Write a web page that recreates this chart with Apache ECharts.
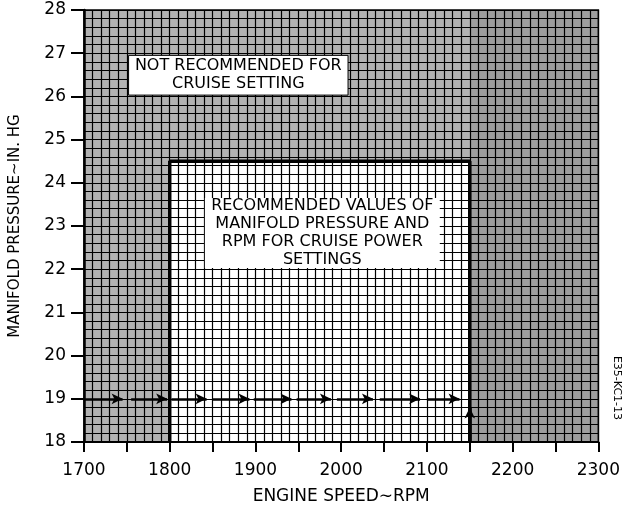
<!DOCTYPE html>
<html>
<head>
<meta charset="utf-8">
<script src="https://cdn.jsdelivr.net/npm/echarts@6/dist/echarts.min.js"></script>
<style>html,body{margin:0;padding:0;background:#fff}#c{width:623px;height:512px}</style>
</head>
<body>
<div id="c"></div>
<script>
// ---- data ----
const xRange = [1700, 2300];
const yRange = [18, 28];
const xTickLabels = ['1700', '1800', '1900', '2000', '2100', '2200', '2300'];
const yTickLabels = ['18', '19', '20', '21', '22', '23', '24', '25', '26', '27', '28'];
// recommended-region outline
const boxX = [1800, 1800, 2150, 2150];
const boxY = [18, 24.5, 24.5, 18];
// not-recommended shaded regions [x1, y1, x2, y2]
const shadeLeft = [1700, 18, 1800, 28];
const shadeTop = [1800, 24.5, 2150, 28];
const shadeRight = [2150, 18, 2300, 28];
// arrows along 19 in.Hg
const arrowLevel = 19;
const arrowStarts = [1700, 1755, 1802, 1850, 1898, 1948, 1995, 2045, 2100];
const arrowEnds = [1745, 1797, 1843, 1893, 1942, 1988, 2037, 2092, 2138];
const upArrowX = 2150;
const upArrowY = [18, 18.8];
// text boxes [x1, y1, x2, y2]
const noteNotRec = [1752, 26.95, 2008, 26.03];
const noteNotRecText = 'NOT RECOMMENDED FOR\nCRUISE SETTING';
const noteRec = [1841, 23.65, 2115, 22.03];
const noteRecText = 'RECOMMENDED VALUES OF\nMANIFOLD PRESSURE AND\nRPM FOR CRUISE POWER\nSETTINGS';

const FONT = 'DejaVu Sans';
const chart = echarts.init(document.getElementById('c'), null, {renderer: 'canvas'});

function area(r, style, label) {
  const a = {coord: [r[0], r[1]], itemStyle: style};
  if (label) a.label = label;
  return [a, {coord: [r[2], r[3]]}];
}

const arrowData = arrowStarts.map((s, i) => [
  {coord: [s, arrowLevel]}, {coord: [arrowEnds[i], arrowLevel]}
]);
arrowData.push([{coord: [upArrowX, upArrowY[0]]}, {coord: [upArrowX, upArrowY[1]]}]);

const option = {
  animation: false,
  backgroundColor: '#fff',
  grid: {left: 83, right: 20, top: 10, bottom: 70, show: true, borderColor: '#000', borderWidth: 1.5},
  xAxis: {
    type: 'value', min: xRange[0], max: xRange[1], interval: 50,
    name: 'ENGINE SPEED\u223CRPM', nameLocation: 'middle', nameGap: 46,
    nameTextStyle: {fontFamily: FONT, fontSize: 17, color: '#000'},
    axisLine: {show: true, lineStyle: {color: '#000', width: 2}},
    axisTick: {show: true, length: 10, lineStyle: {color: '#000', width: 2}},
    axisLabel: {
      margin: 20, fontFamily: FONT, fontSize: 17, color: '#000',
      formatter: v => { const s = String(v); return xTickLabels.indexOf(s) >= 0 ? s : ''; }
    },
    splitLine: {show: true, lineStyle: {color: '#000', width: 1.2}},
    minorTick: {show: false, splitNumber: 5},
    minorSplitLine: {show: true, lineStyle: {color: '#000', width: 1.2}}
  },
  yAxis: {
    type: 'value', min: yRange[0], max: yRange[1], interval: 1,
    name: 'MANIFOLD PRESSURE\u223CIN. HG', nameLocation: 'middle', nameGap: 61, nameRotate: 90,
    nameTextStyle: {fontFamily: FONT, fontSize: 15, color: '#000'},
    axisLine: {show: true, lineStyle: {color: '#000', width: 2.5}},
    axisTick: {show: true, length: 13, lineStyle: {color: '#000', width: 2}},
    axisLabel: {
      margin: 18, fontFamily: FONT, fontSize: 17, color: '#000',
      formatter: v => { const s = String(v); return yTickLabels.indexOf(s) >= 0 ? s : ''; }
    },
    splitLine: {show: true, lineStyle: {color: '#000', width: 1.2}},
    minorTick: {show: false, splitNumber: 5},
    minorSplitLine: {show: true, lineStyle: {color: '#000', width: 1.2}}
  },
  graphic: [{
    type: 'text', x: 617, y: 388, rotation: -Math.PI / 2,
    style: {text: 'E35-KC1-13', fontFamily: FONT, fontSize: 11, fill: '#000', align: 'center', verticalAlign: 'middle'}
  }],
  series: [
    {
      type: 'line', data: [], z: 1, silent: true,
      markArea: {
        silent: true,
        data: [
          area(shadeLeft, {color: 'rgba(0,0,0,0.3)'}),
          area(shadeTop, {color: 'rgba(0,0,0,0.3)'}),
          area(shadeRight, {color: 'rgba(0,0,0,0.38)'})
        ]
      }
    },
    {
      type: 'line', data: [], z: 3, silent: true,
      markArea: {
        silent: true,
        label: {show: true, position: 'inside', color: '#000', fontFamily: FONT, fontSize: 16, lineHeight: 18, align: 'center'},
        data: [
          area(noteNotRec, {color: '#fff', borderColor: '#000', borderWidth: 1}, {formatter: noteNotRecText}),
          area(noteRec, {color: '#fff'}, {formatter: noteRecText})
        ]
      }
    },
    {
      type: 'line', z: 4, silent: true, symbol: 'none',
      data: boxX.map((x, i) => [x, boxY[i]]),
      lineStyle: {color: '#000', width: 3.5}
    },
    {
      type: 'line', data: [], z: 5, silent: true,
      markLine: {
        silent: true, symbol: ['none', 'arrow'], symbolSize: [8, 11],
        lineStyle: {color: '#000', width: 2.5, type: 'solid'},
        label: {show: false},
        data: arrowData
      }
    }
  ]
};
chart.setOption(option);
</script>
</body>
</html>
